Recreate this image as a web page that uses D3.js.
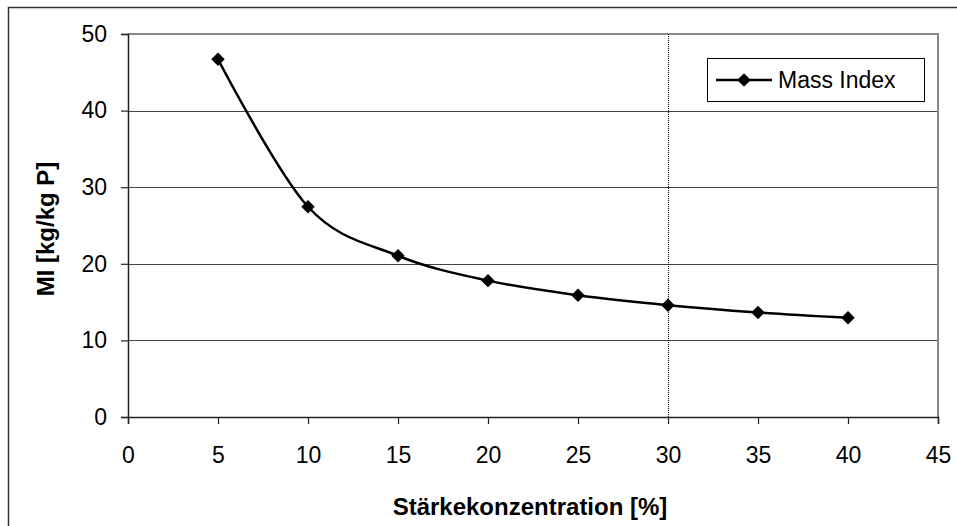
<!DOCTYPE html>
<html><head><meta charset="utf-8">
<script src="https://cdn.jsdelivr.net/npm/d3@7"></script>
<style>body{margin:0;background:#fff}svg{display:block;font-family:"Liberation Sans",Arial,sans-serif}</style>
</head><body><svg id="c" width="957" height="526"></svg>
<script>
const concentration = [5, 10, 15, 20, 25, 30, 35, 40];
const massIndex = [46.7, 27.45, 21.05, 17.8, 15.9, 14.6, 13.65, 12.95];
const xTicks = [0, 5, 10, 15, 20, 25, 30, 35, 40, 45];
const yTicks = [0, 10, 20, 30, 40, 50];
const seriesName = "Mass Index";
const xTitle = "Stärkekonzentration [%]";
const yTitle = "MI [kg/kg P]";
const refLineX = 30;

const svg = d3.select("#c");
const L = 128, R = 938, T = 34, B = 417;
const x = d3.scaleLinear().domain([0, 45]).range([L, R]);
const y = d3.scaleLinear().domain([0, 50]).range([B, T]);
const FONT = '"Liberation Sans",Arial,sans-serif';

// outer border
svg.append("rect").attr("x", 8.5).attr("y", 7.5).attr("width", 960).attr("height", 540)
  .attr("fill", "none").attr("stroke", "#333").attr("stroke-width", 1.5);

// gridlines
svg.append("g").selectAll("line").data(yTicks.filter(d => d > 0 && d < 50)).join("line")
  .attr("x1", L).attr("x2", R).attr("y1", d => Math.round(y(d)) + 0.5).attr("y2", d => Math.round(y(d)) + 0.5)
  .attr("stroke", "#444").attr("stroke-width", 1);

// plot frame top/right (gray)
svg.append("path").attr("d", `M${L},${T}H${R}V${B}`).attr("fill", "none").attr("stroke", "#888").attr("stroke-width", 2);

// reference dotted line
svg.append("line").attr("x1", Math.round(x(refLineX)) + 0.5).attr("x2", Math.round(x(refLineX)) + 0.5)
  .attr("y1", T).attr("y2", B).attr("stroke", "#000").attr("stroke-width", 1).attr("stroke-dasharray", "1,1");

// axes
const yAxis = d3.axisLeft(y).tickValues(yTicks).tickSize(7).tickPadding(14);
const gy = svg.append("g").attr("transform", `translate(${L},0)`).call(yAxis);
const xAxis = d3.axisBottom(x).tickValues(xTicks).tickSize(7).tickPadding(23);
const gx = svg.append("g").attr("transform", `translate(0,${B})`).call(xAxis);
[gx, gy].forEach(g => {
  g.attr("font-size", 23).attr("font-family", FONT);
  g.select(".domain").attr("stroke", "#222").attr("stroke-width", 1.5);
  g.selectAll(".tick line").attr("stroke", "#222").attr("stroke-width", 1.2);
  g.selectAll("text").attr("fill", "#000");
});

// line (Excel-style smoothing ~ uniform Catmull-Rom)
const data = concentration.map((c, i) => ({ c, v: massIndex[i] }));
svg.append("path").datum(data)
  .attr("d", d3.line().x(d => x(d.c)).y(d => y(d.v)).curve(d3.curveCardinal.tension(0)))
  .attr("fill", "none").attr("stroke", "#000").attr("stroke-width", 2.5);

const diamond = d3.symbol().type(d3.symbolDiamond2).size(115);
svg.append("g").selectAll("path").data(data).join("path")
  .attr("transform", d => `translate(${x(d.c)},${y(d.v)})`)
  .attr("d", diamond).attr("fill", "#000");

// legend
const lg = svg.append("g");
lg.append("rect").attr("x", 707.5).attr("y", 58.5).attr("width", 217).attr("height", 43)
  .attr("fill", "#fff").attr("stroke", "#000").attr("stroke-width", 1);
lg.append("line").attr("x1", 716).attr("x2", 772).attr("y1", 80).attr("y2", 80).attr("stroke", "#000").attr("stroke-width", 2.5);
lg.append("path").attr("transform", "translate(744,80)").attr("d", diamond).attr("fill", "#000");
lg.append("text").attr("x", 778).attr("y", 88).attr("font-size", 23).text(seriesName);

// titles
svg.append("text").attr("x", 530).attr("y", 515).attr("text-anchor", "middle")
  .attr("font-size", 24).attr("font-weight", "bold").text(xTitle);
svg.append("text").attr("transform", "translate(54,229) rotate(-90)").attr("text-anchor", "middle")
  .attr("font-size", 24).attr("font-weight", "bold").text(yTitle);
</script></body></html>
